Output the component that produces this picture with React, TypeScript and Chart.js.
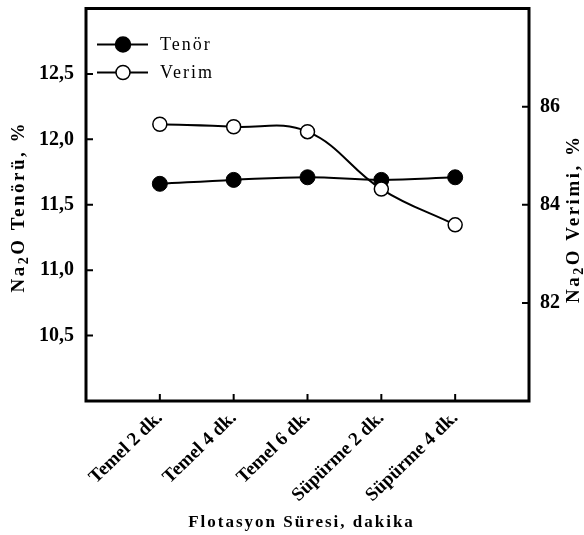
import React, { useEffect, useRef } from 'react';
import { Chart, registerables } from 'chart.js';
Chart.register(...registerables);

const categories = ['Temel 2 dk.', 'Temel 4 dk.', 'Temel 6 dk.', 'Süpürme 2 dk.', 'Süpürme 4 dk.'];
const tenor = [11.66, 11.69, 11.71, 11.69, 11.71];
const verim = [85.64, 85.59, 85.49, 84.32, 83.59];
const leftTicks = [10.5, 11.0, 11.5, 12.0, 12.5];
const rightTicks = [82, 84, 86];
const seriesNames = ['Tenör', 'Verim'];
const xTitle = 'Flotasyon Süresi, dakika';
const leftTitle = ['Na', '2', 'O Tenörü, %'];
const rightTitle = ['Na', '2', 'O Verimi, %'];

const SERIF = '"Liberation Serif", "Times New Roman", serif';

function drawSubTitle(ctx: CanvasRenderingContext2D, parts: string[], cx: number, cy: number, size: number, spacing: number) {
  ctx.save();
  ctx.translate(cx, cy);
  ctx.rotate(-Math.PI / 2);
  ctx.fillStyle = '#000';
  ctx.textBaseline = 'alphabetic';
  ctx.textAlign = 'left';
  (ctx as any).letterSpacing = `${spacing}px`;
  const big = `bold ${size}px ${SERIF}`;
  const small = `bold ${Math.round(size * 0.72)}px ${SERIF}`;
  ctx.font = big;
  const w0 = ctx.measureText(parts[0]).width;
  const w2 = ctx.measureText(parts[2]).width;
  ctx.font = small;
  const w1 = ctx.measureText(parts[1]).width;
  const total = w0 + w1 + w2;
  let x = -total / 2;
  const base = size * 0.35;
  ctx.font = big;
  ctx.fillText(parts[0], x, base);
  x += w0;
  ctx.font = small;
  ctx.fillText(parts[1], x, base + size * 0.25);
  x += w1;
  ctx.font = big;
  ctx.fillText(parts[2], x, base);
  ctx.restore();
}

const decor = {
  id: 'decor',
  afterDraw(chart: any) {
    const { ctx, chartArea: a, scales } = chart;
    ctx.save();
    ctx.strokeStyle = '#000';
    ctx.lineWidth = 3;
    ctx.strokeRect(a.left, a.top, a.right - a.left, a.bottom - a.top);
    ctx.lineWidth = 2;
    ctx.beginPath();
    categories.forEach((_, i) => {
      const px = scales.x.getPixelForValue(i + 1);
      ctx.moveTo(px, a.bottom);
      ctx.lineTo(px, a.bottom - 7);
    });
    leftTicks.forEach((v) => {
      const py = scales.y.getPixelForValue(v);
      ctx.moveTo(a.left, py);
      ctx.lineTo(a.left + 7, py);
    });
    rightTicks.forEach((v) => {
      const py = scales.y1.getPixelForValue(v);
      ctx.moveTo(a.right, py);
      ctx.lineTo(a.right - 7, py);
    });
    ctx.stroke();

    // legend
    const lx0 = a.left + 11, lx1 = a.left + 62, mx = a.left + 37;
    const rows = [a.top + 36, a.top + 64];
    rows.forEach((ly, i) => {
      ctx.lineWidth = 2;
      ctx.strokeStyle = '#000';
      ctx.beginPath();
      ctx.moveTo(lx0, ly);
      ctx.lineTo(lx1, ly);
      ctx.stroke();
      ctx.beginPath();
      ctx.arc(mx, ly, i === 0 ? 7.5 : 7, 0, Math.PI * 2);
      ctx.fillStyle = i === 0 ? '#000' : '#fff';
      ctx.fill();
      ctx.lineWidth = 1.5;
      ctx.stroke();
      ctx.fillStyle = '#000';
      ctx.font = `18px ${SERIF}`;
      (ctx as any).letterSpacing = '2px';
      ctx.textAlign = 'left';
      ctx.textBaseline = 'middle';
      ctx.fillText(seriesNames[i], a.left + 74, ly + 1);
    });

    // x title
    ctx.font = `bold 17px ${SERIF}`;
    (ctx as any).letterSpacing = '2px';
    ctx.textAlign = 'center';
    ctx.textBaseline = 'alphabetic';
    ctx.fillText(xTitle, (a.left + a.right) / 2 - 6, 527);
    ctx.restore();

    const cy = (a.top + a.bottom) / 2;
    drawSubTitle(ctx, leftTitle, 17, cy + 2, 19, 2.5);
    drawSubTitle(ctx, rightTitle, 572, cy + 14, 19, 2.5);
  },
};

export default function App() {
  const ref = useRef<HTMLCanvasElement>(null);
  useEffect(() => {
    document.body.style.margin = '0';
    const tickFont = { family: SERIF, size: 20, weight: 'bold' as const };
    const chart = new Chart(ref.current!, {
      type: 'line',
      data: {
        datasets: [
          {
            label: seriesNames[0],
            data: tenor.map((v, i) => ({ x: i + 1, y: v })),
            yAxisID: 'y',
            borderColor: '#000',
            borderWidth: 2,
            pointRadius: 7.5,
            pointBackgroundColor: '#000',
            pointBorderColor: '#000',
            pointBorderWidth: 1,
            tension: 0.4,
            order: 1,
          },
          {
            label: seriesNames[1],
            data: verim.map((v, i) => ({ x: i + 1, y: v })),
            yAxisID: 'y1',
            borderColor: '#000',
            borderWidth: 2,
            pointRadius: 7,
            pointBackgroundColor: '#fff',
            pointBorderColor: '#000',
            pointBorderWidth: 1.5,
            tension: 0.4,
            order: 0,
          },
        ],
      },
      options: {
        animation: false,
        responsive: false,
        devicePixelRatio: 1,
        layout: { padding: { top: 7, left: 0, right: 0, bottom: 0 } },
        plugins: { legend: { display: false }, tooltip: { enabled: false } },
        scales: {
          x: {
            type: 'linear',
            min: 0,
            max: 6,
            grid: { display: false, drawTicks: false },
            border: { display: false },
            afterBuildTicks: (s: any) => {
              s.ticks = categories.map((_, i) => ({ value: i + 1 }));
            },
            afterFit: (s: any) => {
              s.height = 134;
              s.paddingLeft = 0;
              s.paddingRight = 0;
            },
            ticks: {
              autoSkip: false,
              minRotation: 44,
              maxRotation: 44,
              padding: 6,
              color: '#000',
              font: { family: SERIF, size: 19, weight: 'bold' },
              callback: (v: any) => categories[Math.round(v) - 1] ?? '',
            },
          },
          y: {
            type: 'linear',
            position: 'left',
            min: 10,
            max: 13,
            grid: { display: false, drawTicks: false },
            border: { display: false },
            afterBuildTicks: (s: any) => {
              s.ticks = leftTicks.map((v) => ({ value: v }));
            },
            afterFit: (s: any) => {
              s.width = 86;
              s.paddingTop = 0;
              s.paddingBottom = 0;
            },
            ticks: {
              padding: 12,
              color: '#000',
              font: tickFont,
              callback: (v: any) => Number(v).toFixed(1).replace('.', ','),
            },
          },
          y1: {
            type: 'linear',
            position: 'right',
            min: 80,
            max: 88,
            grid: { display: false, drawTicks: false },
            border: { display: false },
            afterBuildTicks: (s: any) => {
              s.ticks = rightTicks.map((v) => ({ value: v }));
            },
            afterFit: (s: any) => {
              s.width = 55;
              s.paddingTop = 0;
              s.paddingBottom = 0;
            },
            ticks: {
              padding: 11,
              color: '#000',
              font: tickFont,
              callback: (v: any) => String(v),
            },
          },
        },
      },
      plugins: [decor],
    });
    return () => chart.destroy();
  }, []);
  return (
    <div style={{ width: 584, height: 535 }}>
      <canvas ref={ref} width={584} height={535} style={{ width: 584, height: 535, display: 'block' }} />
    </div>
  );
}
